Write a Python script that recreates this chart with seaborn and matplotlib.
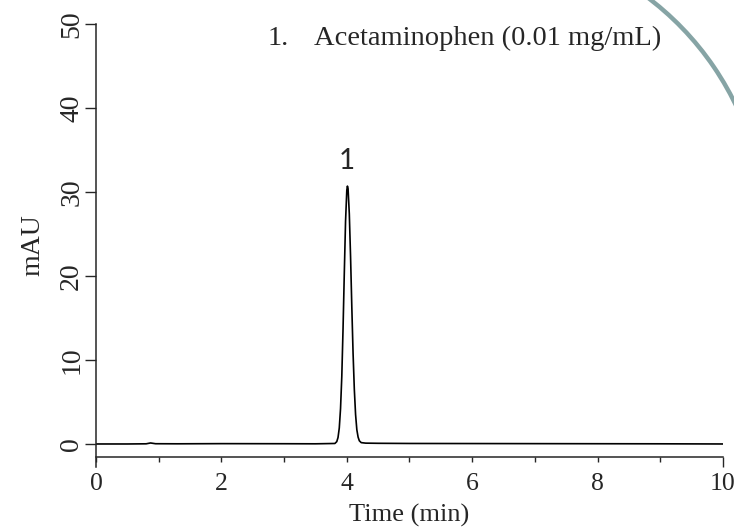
import numpy as np
import pandas as pd
import matplotlib
matplotlib.use("Agg")
import matplotlib.pyplot as plt
from matplotlib.patches import Arc
import seaborn as sns

# Chromatogram trace (time in min, signal in mAU)
time_min = [0.0, 0.5, 0.80, 0.87, 0.95, 1.3, 2.0, 3.0, 3.5,
            3.81, 3.84, 3.86, 3.88, 3.90, 3.92, 3.94, 3.96, 3.98,
            4.00, 4.01, 4.02, 4.04, 4.06, 4.08, 4.10, 4.12, 4.14, 4.16, 4.18, 4.20,
            4.23, 4.30, 4.5, 5.0, 6.0, 7.0, 8.0, 9.0, 10.0]
signal_mau = [0.0, 0.0, 0.02, 0.12, 0.03, 0.02, 0.04, 0.03, 0.02,
              0.06, 0.28, 0.77, 1.9, 4.2, 8.0, 13.7, 20.3, 26.5,
              30.2, 30.7, 30.4, 27.4, 22.3, 16.3, 10.8, 6.5, 3.5, 1.7, 0.82, 0.38,
              0.16, 0.1, 0.08, 0.06, 0.05, 0.04, 0.03, 0.02, 0.0]

x_ticks = [0, 1, 2, 3, 4, 5, 6, 7, 8, 9, 10]
x_tick_labels = ["0", "", "2", "", "4", "", "6", "", "8", "", "10"]
y_ticks = [0, 10, 20, 30, 40, 50]

peak_labels = ["1"]
peak_times = [4.0]
peak_label_y = [33.7]
compound_text = "Acetaminophen (0.01 mg/mL)"

df = pd.DataFrame({"Time (min)": time_min, "mAU": signal_mau})

sns.set_style("ticks")
plt.rcParams["font.family"] = ["Liberation Serif", "DejaVu Serif"]

fig = plt.figure(figsize=(7.34, 5.32), dpi=100)
ax = fig.add_axes([0.1308, 0.1222, 0.8542, 0.8327])

sns.lineplot(data=df, x="Time (min)", y="mAU", ax=ax, color="black",
             linewidth=1.2, estimator=None)

ax.set_xlim(0, 10)
ax.set_ylim(-2.74, 50)
ax.spines["top"].set_visible(False)
ax.spines["right"].set_visible(False)
ax.spines["bottom"].set_position(("data", -1.55))
for s in ("left", "bottom"):
    ax.spines[s].set_linewidth(1.1)

ax.set_xticks(x_ticks)
ax.set_xticklabels(x_tick_labels)
ax.set_yticks(y_ticks)
ax.set_yticklabels([str(v) for v in y_ticks], rotation=90, va="center")
ax.tick_params(axis="x", direction="out", length=3.6, width=1.0,
               labelsize=18.5, pad=8)
ax.tick_params(axis="y", direction="out", length=8, width=1.0,
               labelsize=20, pad=0.5)
# longer end mark at 10
ax.xaxis.get_major_ticks()[-1].tick1line.set_markersize(7.2)

ax.set_xlabel("Time (min)", fontsize=19, labelpad=6)
ax.set_ylabel("mAU", fontsize=20, labelpad=10)

for lab, t, yv in zip(peak_labels, peak_times, peak_label_y):
    ax.text(t, yv, lab, ha="center", va="center", fontsize=20,
            family=["Lato", "DejaVu Sans"])

ax.text(2.73, 48.3, "1.", ha="left", va="center", fontsize=20.5)
ax.text(3.48, 48.3, compound_text, ha="left", va="center", fontsize=20.5)

# decorative arc in the top-right corner
arc = Arc((470 / 734, 299 / 532), 590 / 734, 590 / 532, theta1=20, theta2=62,
          transform=fig.transFigure, color="#86a4a5", linewidth=3.2)
fig.patches.append(arc)

fig.savefig("out.png", dpi=100)
